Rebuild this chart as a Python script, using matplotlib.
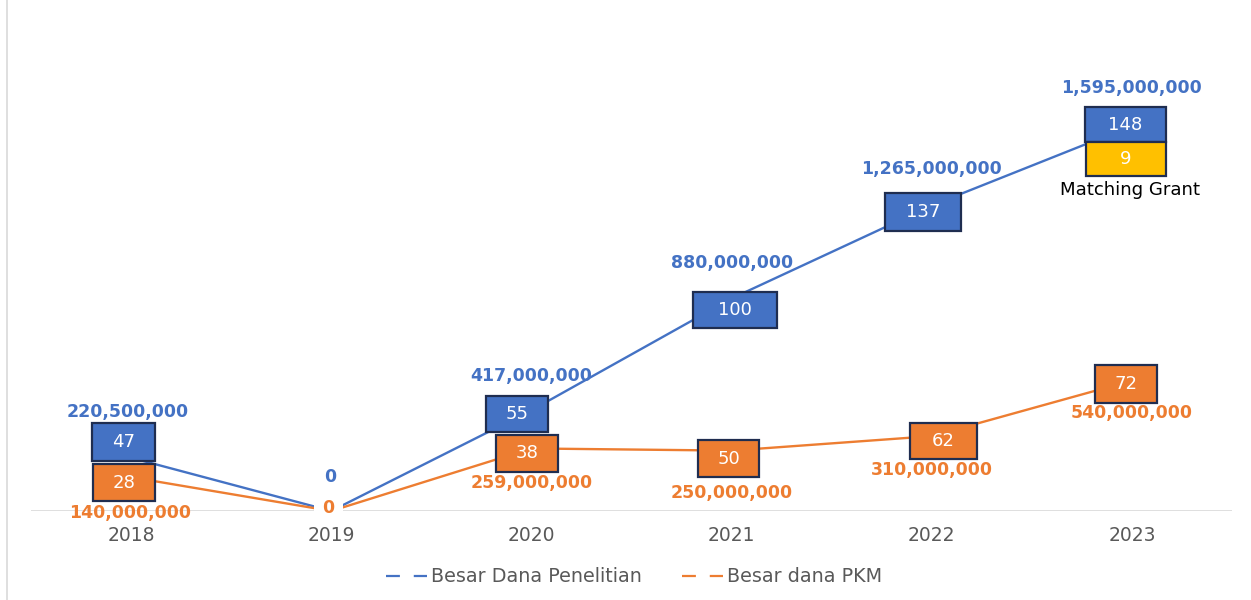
import matplotlib
matplotlib.use('Agg')
import matplotlib.pyplot as plt
from matplotlib.patches import Rectangle
from matplotlib.lines import Line2D

# ---------------- data ----------------
years = ['2018', '2019', '2020', '2021', '2022', '2023']
dana_penelitian = [220500000, 0, 417000000, 880000000, 1265000000, 1595000000]
dana_pkm = [140000000, 0, 259000000, 250000000, 310000000, 540000000]
jumlah_penelitian = [47, None, 55, 100, 137, 148]
jumlah_pkm = [28, None, 38, 50, 62, 72]
matching_grant = 9
matching_label = 'Matching Grant'
series_names = ['Besar Dana Penelitian', 'Besar dana PKM']

# ---------------- style ----------------
BLUE = '#4472C4'
ORANGE = '#ED7D31'
YELLOW = '#FFC000'
EDGE = '#1F2D50'
GRAY = '#595959'
W, H = 1251, 600

# box placement relative to the data point (pixels, +y = down) and box size (px)
pen_box_off = [(-8, -16), None, (-14, 4), (3, 11.5), (-9, 6.5), (-6.5, -1)]
pen_box_size = [(63, 38), None, (62, 36), (84, 36), (76, 38), (81, 35)]
pkm_box_off = [(-7, 5.5), None, (-4, 5), (-3, 8), (11.5, 5), (-6, 3.5)]
pkm_box_size = [(62, 37), None, (62, 37), (61, 37), (67, 36), (62, 38)]
pen_lbl_off = [(-3, -46), (-1, -34), (0, -34), (0, -35.5), (0, -36.5), (0, -38)]
pkm_lbl_off = [(-1, 36), (-3, -3), (0, 34.5), (0, 42), (0, 34), (0, 32)]
mg_box_off = (0.5, 34.5)   # relative to 2023 penelitian box centre
mg_box_size = (80, 34)
mg_lbl_off = (-2, 64)      # relative to 2023 penelitian data point

fig = plt.figure(figsize=(W / 100, H / 100), dpi=100)
ax_left, ax_right, ax_bottom, ax_top = 31, 1232, 511, 28
ax = fig.add_axes([ax_left / W, (H - ax_bottom) / H,
                   (ax_right - ax_left) / W, (ax_bottom - ax_top) / H])
x = list(range(len(years)))
ax.set_xlim(-0.5, len(years) - 0.5)
ax.set_ylim(0, 2000000000)

ax.axhline(0, color='#D9D9D9', lw=1.2, zorder=1)
ax.plot(x, dana_penelitian, color=BLUE, lw=1.7, zorder=2)
ax.plot(x, dana_pkm, color=ORANGE, lw=1.7, zorder=2)

for s in ax.spines.values():
    s.set_visible(False)
ax.set_yticks([])
ax.set_xticks(x, years)
ax.tick_params(axis='x', length=0, pad=11, labelsize=13.5, labelcolor=GRAY)

fig.canvas.draw()


def to_fig(px, py):
    return px / W, py / H


def data_px(i, v):
    dx, dy = ax.transData.transform((i, v))
    return dx, H - dy  # image coordinates (y down)


def draw_box(cx, cy, w, h, face, text):
    x0, y0 = cx - w / 2, cy + h / 2  # bottom-left in image coords
    fx, fy = to_fig(x0, H - y0)
    rect = Rectangle((fx, fy), w / W, h / H, transform=fig.transFigure,
                     facecolor=face, edgecolor=EDGE, lw=1.6, zorder=5)
    fig.add_artist(rect)
    tx, ty = to_fig(cx, H - cy)
    fig.text(tx, ty, text, ha='center', va='center', color='white',
             fontsize=13, zorder=6)


for i in x:
    # counts boxes
    if jumlah_penelitian[i] is not None:
        px, py = data_px(i, dana_penelitian[i])
        ox, oy = pen_box_off[i]
        w, h = pen_box_size[i]
        draw_box(px + ox, py + oy, w, h, BLUE, str(jumlah_penelitian[i]))
    if jumlah_pkm[i] is not None:
        px, py = data_px(i, dana_pkm[i])
        ox, oy = pkm_box_off[i]
        w, h = pkm_box_size[i]
        draw_box(px + ox, py + oy, w, h, ORANGE, str(jumlah_pkm[i]))
    # value labels
    ox, oy = pen_lbl_off[i]
    ax.annotate(f'{dana_penelitian[i]:,}', xy=(i, dana_penelitian[i]),
                xytext=(ox, -oy), textcoords='offset pixels', ha='center',
                va='center', color=BLUE, fontsize=12.5, fontweight='bold',
                annotation_clip=False, zorder=4)
    ox, oy = pkm_lbl_off[i]
    bbox = None
    if dana_pkm[i] == 0:
        bbox = dict(boxstyle='square,pad=0.5', fc='white', ec='none')
    ax.annotate(f'{dana_pkm[i]:,}', xy=(i, dana_pkm[i]),
                xytext=(ox, -oy), textcoords='offset pixels', ha='center',
                va='center', color=ORANGE, fontsize=12.5, fontweight='bold',
                annotation_clip=False, zorder=4, bbox=bbox)

# matching grant box
last = len(years) - 1
px, py = data_px(last, dana_penelitian[last])
bcx, bcy = px + pen_box_off[last][0], py + pen_box_off[last][1]
draw_box(bcx + mg_box_off[0], bcy + mg_box_off[1], mg_box_size[0], mg_box_size[1],
         YELLOW, str(matching_grant))
ax.annotate(matching_label, xy=(last, dana_penelitian[last]),
            xytext=(mg_lbl_off[0], -mg_lbl_off[1]), textcoords='offset pixels',
            ha='center', va='center', color='black', fontsize=13.1,
            annotation_clip=False)

# legend
handles = [Line2D([], [], color=BLUE, lw=1.6, linestyle=(0, (6.25, 6.25))),
           Line2D([], [], color=ORANGE, lw=1.6, linestyle=(0, (6.25, 6.25)))]
leg = fig.legend(handles, series_names, loc='center',
                 bbox_to_anchor=(634 / W, 1 - 577 / H), ncol=2, frameon=False,
                 fontsize=13.8, handlelength=2.15, handletextpad=0.2,
                 columnspacing=2.1)
for t in leg.get_texts():
    t.set_color(GRAY)

# chart border (left edge visible)
fig.add_artist(Line2D([7 / W, 7 / W], [0, 1], transform=fig.transFigure,
                      color='#D9D9D9', lw=1.2))

fig.savefig('out.png', dpi=100)
